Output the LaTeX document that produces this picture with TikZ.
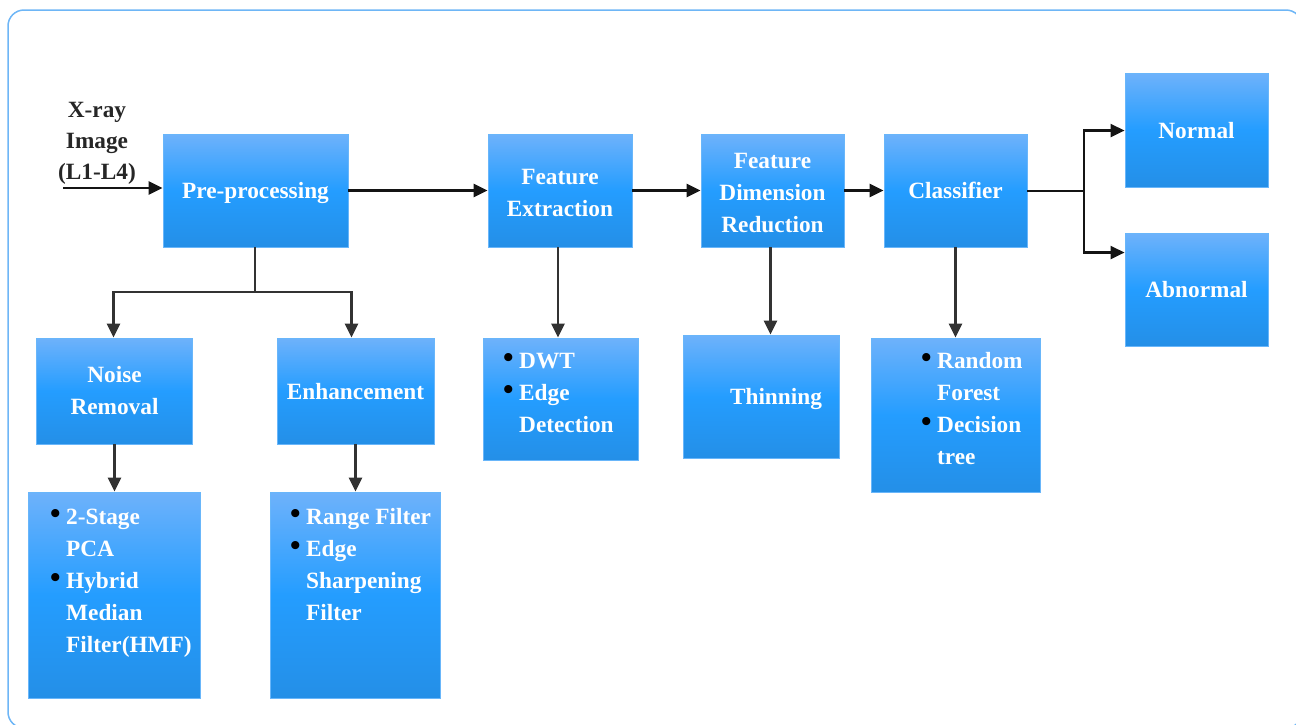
\documentclass[tikz,border=0pt]{standalone}
\usepackage{fontspec}
\setmainfont{Liberation Serif}
\usetikzlibrary{arrows.meta,calc}
\definecolor{btop}{RGB}{110,178,251}
\definecolor{bmid}{RGB}{36,157,255}
\definecolor{bbot}{RGB}{36,143,231}
\definecolor{bedge}{RGB}{105,182,250}
\definecolor{frame}{RGB}{110,182,246}
\definecolor{arrc}{RGB}{20,20,20}
\definecolor{arrg}{RGB}{50,50,50}
\newcommand{\bul}{\makebox[15pt][l]{\hspace*{-1pt}\raisebox{1pt}{\color{black}\fontsize{30}{30}\selectfont\textbullet}}}
\newcommand{\ind}{\hspace*{15pt}}
\newcommand{\up}{\rule{0pt}{19.5pt}}
\tikzset{
  box/.style={draw=bedge, line width=0.9pt, top color=btop, bottom color=bbot, middle color=bmid,
    text=white, font=\bfseries\fontsize{23.3}{32}\selectfont, align=center, inner sep=0pt},
  one/.style={text height=16pt, text depth=0pt},
  btxt/.style={text=white, font=\bfseries\fontsize{23.3}{32}\selectfont, inner sep=0pt, anchor=base west},
  arr/.style={draw=arrc, line width=2.6pt, -{Triangle[length=14pt,width=13pt]}},
  arrd/.style={draw=arrg, line width=2.6pt, -{Triangle[length=14pt,width=13pt]}},
  ln/.style={draw=arrc, line width=2.6pt},
  lnd/.style={draw=arrg, line width=2.6pt},
}
\begin{document}
\begin{tikzpicture}[x=1pt,y=-1pt]
\useasboundingbox (0,0) rectangle (1296,724);
\draw[frame, line width=1.5pt, rounded corners=16pt] (8,10) rectangle (1302,728);

% main row
\node[box, one, minimum width=185pt, minimum height=113pt] (pre) at (255.5,190.5) {Pre-processing};
\node[box, minimum width=144pt, minimum height=113pt] (fe) at (560,190.5) {\up Feature\\Extraction};
\node[box, minimum width=143pt, minimum height=113pt] (fdr) at (772.5,190.5) {\up Feature\\Dimension\\Reduction};
\node[box, one, minimum width=143pt, minimum height=113pt] (cls) at (955.5,190.5) {Classifier};
\node[box, one, minimum width=143pt, minimum height=114pt] (nor) at (1196.5,130) {Normal};
\node[box, one, minimum width=143pt, minimum height=113pt] (abn) at (1196.5,289.5) {Abnormal};

% second row
\node[box, minimum width=156pt, minimum height=106pt] (noi) at (114.5,391) {Noise\\Removal};
\node[box, one, minimum width=157pt, minimum height=106pt] (enh) at (355.5,391) {Enhancement};
\node[box, minimum width=155pt, minimum height=122pt] (dwt) at (560.5,399) {};
\node[box, one, minimum width=156pt, minimum height=123pt] (thin) at (761,396.5) {\hspace*{30pt}Thinning};
\node[box, minimum width=169pt, minimum height=154pt] (rf) at (955.5,415) {};

% third row
\node[box, minimum width=172pt, minimum height=206pt] (s2) at (114,595) {};
\node[box, minimum width=170pt, minimum height=206pt] (rng) at (355,595) {};

% bullet texts
\node[btxt] (s2t) at (51,524) {\vtop{\hbox{\bul 2-Stage}\hbox{\ind PCA}\hbox{\bul Hybrid}\hbox{\ind Median}\hbox{\ind Filter(HMF)}}};
\node[btxt] (rngt) at (291,524) {\vtop{\hbox{\bul Range Filter}\hbox{\bul Edge}\hbox{\ind Sharpening}\hbox{\ind Filter}}};
\node[btxt] (dwtt) at (504,368) {\vtop{\hbox{\bul DWT}\hbox{\bul Edge}\hbox{\ind Detection}}};
\node[btxt] (rft) at (922,368) {\vtop{\hbox{\bul Random}\hbox{\ind Forest}\hbox{\bul Decision}\hbox{\ind tree}}};

% input label
\node[font=\bfseries\fontsize{23.3}{31}\selectfont, text=black!85, align=center, inner sep=0pt] (xin) at (97,143) {X-ray\\Image\\(L1-L4)};
\coordinate (xs) at (63,188);

% connectors
\draw[arr] (xs) -- (xs -| pre.west);
\draw[arr] (pre.east) -- (fe.west);
\draw[arr] (fe.east) -- (fdr.west);
\draw[arr] (fdr.east) -- (cls.west);
\coordinate (sp) at (1084,191);
\draw[ln] (cls.east |- sp) -- (sp);
\draw[arr] (sp) |- ($(nor.north west)+(0,58)$);
\draw[arr] (sp) |- ($(abn.north west)+(0,20)$);

\coordinate (pj) at (255,292);
\draw[lnd] (pre.south -| pj) -- (pj);
\draw[arrd] ($(pj)+(1.3,0)$) -| ($(noi.north)+(-1,0)$);
\draw[arrd] ($(pj)+(-1.3,0)$) -| ($(enh.north)+(-4,0)$);
\draw[arrd] (noi.south) -- (noi.south |- s2.north);
\draw[arrd] (enh.south) -- (enh.south |- rng.north);
\coordinate (fd) at ($(fe.south)+(-2,0)$);
\draw[arrd] (fd) -- (fd |- dwt.north);
\coordinate (ft) at ($(fdr.south)+(-2,0)$);
\draw[arrd] (ft) -- (ft |- thin.north);
\draw[arrd] (cls.south) -- (rf.north);
\end{tikzpicture}
\end{document}
